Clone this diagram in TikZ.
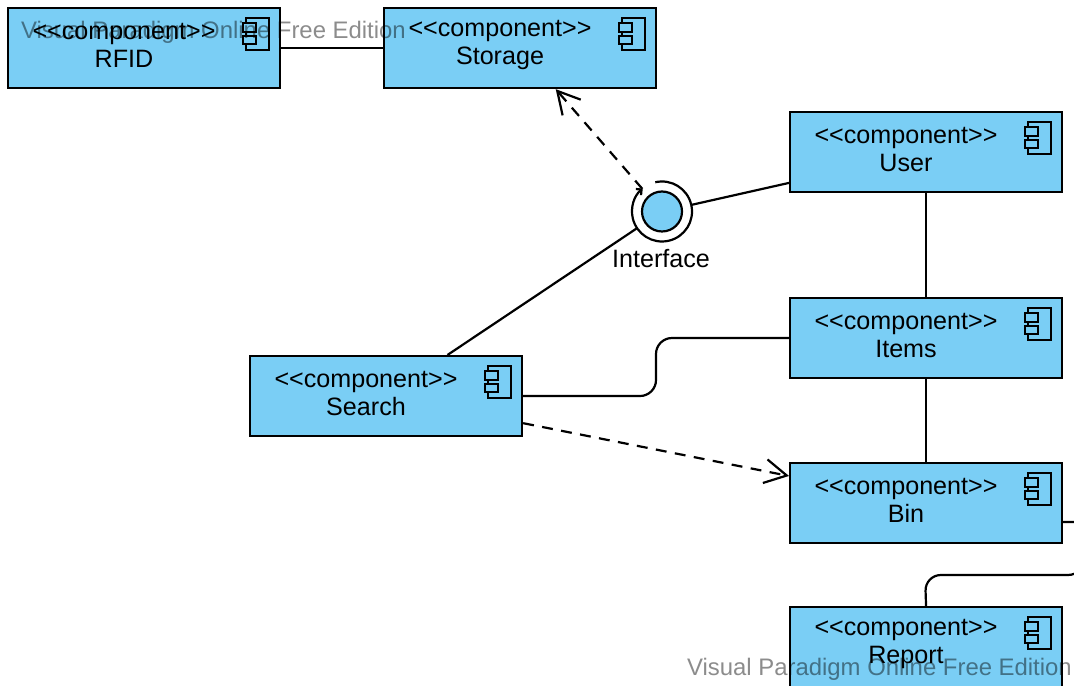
\documentclass[tikz,border=0pt]{standalone}
\usepackage{fontspec}
\setmainfont{Liberation Sans}
\usetikzlibrary{arrows.meta}
\definecolor{compblue}{RGB}{122,206,245}
\tikzset{compbox/.style={draw, fill=compblue, minimum width=5.44cm, minimum height=1.6cm, inner sep=0pt, anchor=north west}}
\tikzset{comptext/.style={align=center, inner sep=0pt, font=\fontsize{14.3pt}{15.9pt}\selectfont, text=black}}
\tikzset{iconpart/.style={draw, fill=compblue, line width=0.9pt}}
\tikzset{ifacedot/.style={circle, draw, fill=compblue, minimum size=0.8cm, inner sep=0pt, outer sep=0.2cm}}
\tikzset{depend/.style={dash pattern=on 6.2pt off 4.8pt, -{Straight Barb[length=0.44cm, width=0.48cm]}}}
\tikzset{watermark/.style={inner sep=0pt, text=black, text opacity=0.45, font=\fontsize{13.6pt}{15pt}\selectfont}}
\newcommand{\compnode}[4]{
  \begin{scope}[shift={(#2,#3)}]
    \node[compbox] (#1) at (0,0) {};
    \node[comptext] (#1text) at (117,38.3) {<{}<component>{}>\\#4};
    \draw[iconpart] (239,11) rectangle (262,43);
    \draw[iconpart] (236,16) rectangle (249,25);
    \draw[iconpart] (236,29) rectangle (249,37);
  \end{scope}
}
\begin{document}
\begin{tikzpicture}[x=0.02cm,y=-0.02cm,line width=0.044cm]
    \useasboundingbox (0,0) rectangle (1074,688);
    \clip (0,0) rectangle (1074,685);
    \compnode{rfid}{7}{7}{RFID}
    \compnode{storage}{383}{7}{Storage}
    \compnode{user}{789}{111}{User}
    \compnode{items}{789}{297}{Items}
    \compnode{search}{249}{355}{Search}
    \compnode{bin}{789}{462}{Bin}
    \compnode{report}{789}{606}{Report}
    \node[ifacedot] (iface) at (662,211.5) {};
    \node[comptext] (ifacetext) at (661,259) {Interface};
    \draw[-{Straight Barb[length=0.08cm, width=0.16cm]}] (iface.center) ++(-103:30) arc[start angle=-103, end angle=230, radius=30];
    \coordinate (binout) at (1061,522);
    \draw (rfid) -- (storage);
    \draw (user) -- (items);
    \draw (items) -- (bin);
    \draw (search) -- (iface);
    \draw (user) -- (iface);
    \draw[rounded corners=0.32cm] (search.east) -- (656,396) -- (656,338) -- (items.west);
    \draw[rounded corners=0.32cm] (binout) -- (1090,522) -- (1084,575) -- (925,575) -- (report.north);
    \draw[depend] (iface) -- (storage);
    \draw[depend] (search) -- (bin);
    \node[watermark, anchor=west] (markone) at (20,32) {Visual Paradigm Online Free Edition};
    \node[watermark, anchor=west] (marktwo) at (686,669) {Visual Paradigm Online Free Edition};
  \end{tikzpicture}
\end{document}
